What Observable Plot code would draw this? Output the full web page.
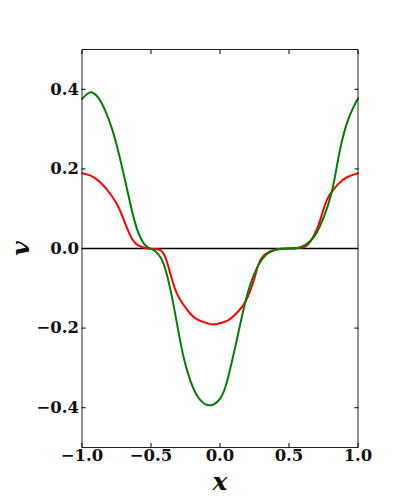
<!DOCTYPE html>
<html>
<head>
<meta charset="utf-8">
<script src="https://cdn.jsdelivr.net/npm/d3@7"></script>
<script src="https://cdn.jsdelivr.net/npm/@observablehq/plot@0.6"></script>
<style>
  html, body { margin: 0; padding: 0; background: #fff; }
  #chart svg { display: block; }
</style>
</head>
<body>
<div id="chart"></div>
<script>
const greenX = [-1, -0.96, -0.926, -0.88, -0.83, -0.78, -0.74, -0.70, -0.66, -0.62, -0.576, -0.528, -0.48, -0.444, -0.408, -0.359, -0.311, -0.263, -0.202, -0.142, -0.07, 0.003, 0.051, 0.099, 0.148, 0.184, 0.22, 0.269, 0.341, 0.425, 0.5, 0.582, 0.655, 0.703, 0.751, 0.799, 0.836, 0.872, 0.92, 0.968, 1];
const greenV = [0.376, 0.389, 0.392, 0.378, 0.345, 0.298, 0.248, 0.19, 0.128, 0.07, 0.027, 0.004, -0.004, -0.016, -0.039, -0.104, -0.19, -0.274, -0.344, -0.381, -0.394, -0.376, -0.334, -0.265, -0.188, -0.134, -0.09, -0.048, -0.014, -0.002, 0.0, 0.003, 0.019, 0.041, 0.078, 0.128, 0.186, 0.252, 0.315, 0.356, 0.377];
const redX = [-1, -0.938, -0.866, -0.794, -0.734, -0.685, -0.637, -0.589, -0.528, -0.48, -0.432, -0.395, -0.359, -0.311, -0.238, -0.166, -0.07, -0.03, 0.051, 0.124, 0.184, 0.244, 0.28, 0.329, 0.41, 0.5, 0.6, 0.655, 0.703, 0.739, 0.775, 0.811, 0.86, 0.92, 1];
const redV = [0.189, 0.183, 0.166, 0.137, 0.103, 0.061, 0.024, 0.007, 0.0, -0.001, -0.004, -0.023, -0.064, -0.114, -0.154, -0.178, -0.19, -0.19, -0.182, -0.161, -0.134, -0.081, -0.039, -0.014, -0.002, 0.0, 0.003, 0.018, 0.049, 0.086, 0.122, 0.143, 0.163, 0.179, 0.189];
const xTicks = [-1, -0.5, 0, 0.5, 1];
const yTicks = [-0.4, -0.2, 0, 0.2, 0.4];
const xLabel = "x";
const yLabel = "v";

const green = greenX.map((x, i) => ({x, v: greenV[i]}));
const red = redX.map((x, i) => ({x, v: redV[i]}));
const fmt = d => (d < 0 ? "\u2212" : "") + Math.abs(d).toFixed(1);
const font = "DejaVu Serif";

const chart = Plot.plot({
  width: 407,
  height: 497,
  marginLeft: 81.5,
  marginRight: 49.5,
  marginTop: 49,
  marginBottom: 50,
  style: {fontFamily: font, background: "#fff"},
  x: {domain: [-1, 1]},
  y: {domain: [-0.5, 0.5]},
  marks: [
    Plot.ruleY([0], {stroke: "black", strokeWidth: 1.6}),
    Plot.line(red, {x: "x", y: "v", stroke: "#ff0000", strokeWidth: 2, curve: "natural"}),
    Plot.line(green, {x: "x", y: "v", stroke: "#008000", strokeWidth: 2, curve: "natural"}),
    Plot.frame({stroke: "#222", strokeWidth: 1}),
    Plot.axisX(xTicks, {anchor: "bottom", tickSize: -4, tickPadding: 6, tickFormat: fmt, fontSize: 16.5, fontWeight: "bold", fill: "#111", label: null}),
    Plot.axisX(xTicks, {anchor: "top", tickSize: -4, text: null, label: null}),
    Plot.axisY(yTicks, {anchor: "left", tickSize: -4, tickPadding: 7, tickFormat: fmt, fontSize: 16.5, fontWeight: "bold", fill: "#111", label: null}),
    Plot.axisY(yTicks, {anchor: "right", tickSize: -4, text: null, label: null}),
    Plot.text([xLabel], {frameAnchor: "bottom", lineAnchor: "middle", textAnchor: "middle", dy: 34, text: d => d, fontSize: 25, fontWeight: "bold", fontStyle: "italic", fill: "#111"}),
    Plot.text([yLabel], {frameAnchor: "left", lineAnchor: "middle", textAnchor: "middle", dx: -61, text: d => d, fontSize: 25, fontWeight: "bold", fontStyle: "italic", rotate: -90, fill: "#111"})
  ]
});
document.getElementById("chart").appendChild(chart);
</script>
</body>
</html>
